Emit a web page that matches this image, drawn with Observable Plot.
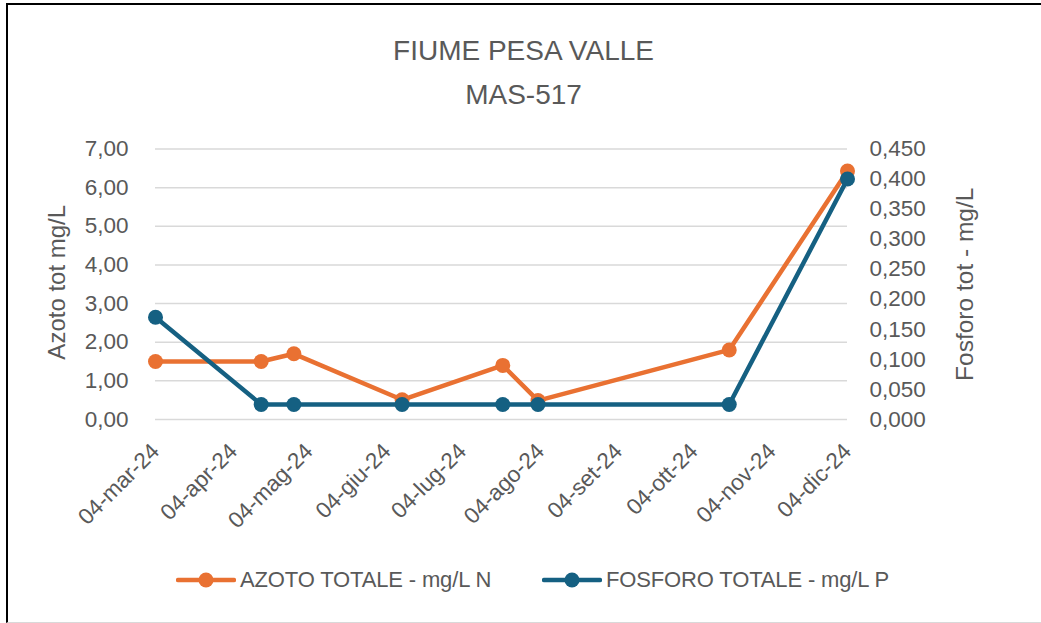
<!DOCTYPE html>
<html><head><meta charset="utf-8">
<script src="https://cdn.jsdelivr.net/npm/d3@7"></script>
<script src="https://cdn.jsdelivr.net/npm/@observablehq/plot@0.6"></script>
<style>
html,body{margin:0;padding:0;background:#fff;}
#page{position:relative;width:1041px;height:623px;overflow:hidden;font-family:"Liberation Sans",Arial,sans-serif;color:#595959;}
#frame{position:absolute;left:6px;top:3px;right:0;bottom:0;border-top:2px solid #000;border-left:2px solid #000;border-bottom:1px solid #d9d9d9;box-sizing:border-box;pointer-events:none;}
#title{position:absolute;left:6px;right:0;top:29px;text-align:center;font-size:28px;line-height:44px;}
#chart{position:absolute;left:0;top:130px;}
.item{position:absolute;top:566px;height:28px;display:flex;align-items:center;font-size:22px;letter-spacing:-0.15px;white-space:nowrap;}
.item svg{display:block;margin-right:4px;}
</style></head><body>
<div id="page">
  <div id="frame"></div>
  <div id="title"></div>
  <div id="chart"></div>
  <div id="legend"></div>
</div>
<script>
// ---- data ----
const titleLines = ["FIUME PESA VALLE", "MAS-517"];
const sampleDates = ["2024-03-04","2024-04-15","2024-04-28","2024-06-10","2024-07-20","2024-08-03","2024-10-18","2024-12-04"];
const azoto   = [1.50, 1.50, 1.70, 0.51, 1.40, 0.49, 1.80, 6.43];
const fosforo = [0.170, 0.025, 0.025, 0.025, 0.025, 0.025, 0.025, 0.400];
const seriesNames = ["AZOTO TOTALE - mg/L N", "FOSFORO TOTALE - mg/L P"];
const seriesColors = ["#E97132", "#156082"];
const tickDates = ["2024-03-04","2024-04-04","2024-05-04","2024-06-04","2024-07-04","2024-08-04","2024-09-04","2024-10-04","2024-11-04","2024-12-04"];
const tickLabels = ["04-mar-24","04-apr-24","04-mag-24","04-giu-24","04-lug-24","04-ago-24","04-set-24","04-ott-24","04-nov-24","04-dic-24"];
const leftTicks = [0,1,2,3,4,5,6,7];
const rightTicks = [0,0.05,0.10,0.15,0.20,0.25,0.30,0.35,0.40,0.45];
const leftTitle = "Azoto tot mg/L";
const rightTitle = "Fosforo tot - mg/L";

// ---- build ----
const FONT = '"Liberation Sans", Arial, sans-serif';
const TEXT = "#595959";
const parse = d3.utcParse("%Y-%m-%d");
const tDates = tickDates.map(parse);
const labelByTime = new Map(tDates.map((d,i)=>[+d, tickLabels[i]]));
const rows = sampleDates.map((s,i)=>({date: parse(s), azoto: azoto[i], fosforo: fosforo[i]}));
const leftMax = leftTicks[leftTicks.length-1];
const rightMax = rightTicks[rightTicks.length-1];
const ratio = leftMax / rightMax;
const comma = (v, n) => v.toFixed(n).replace(".", ",");

document.getElementById("title").innerHTML = titleLines.map(t=>`<div>${t}</div>`).join("");

const chart = Plot.plot({
  width: 1041,
  height: 420,
  marginLeft: 155,
  marginRight: 194,
  marginTop: 18.5,
  marginBottom: 131,
  x: {type: "utc", domain: d3.extent(tDates)},
  y: {domain: [0, leftMax]},
  style: {fontFamily: FONT, color: TEXT, background: "transparent", overflow: "visible"},
  marks: [
    Plot.gridY(leftTicks, {stroke: "#d9d9d9", strokeOpacity: 1, strokeWidth: 1.5}),
    Plot.axisY(leftTicks, {anchor: "left", tickSize: 0, tickPadding: 27, fontSize: 22.5, tickFormat: d => comma(d, 2), label: null}),
    Plot.axisY(rightTicks.map(v => v * ratio), {anchor: "right", tickSize: 0, tickPadding: 22, fontSize: 22.5, tickFormat: d => comma(d / ratio, 3), label: null}),
    Plot.axisX(tDates, {tickRotate: -45, tickSize: 0, tickPadding: 28, fontSize: 22.5, tickFormat: d => labelByTime.get(+d), label: null}),
    Plot.text([leftTitle], {text: d => d, frameAnchor: "left", dx: -98, dy: -2, rotate: -90, textAnchor: "middle", lineAnchor: "middle", fontSize: 24, fill: TEXT}),
    Plot.text([rightTitle], {text: d => d, frameAnchor: "right", dx: 118, rotate: -90, textAnchor: "middle", lineAnchor: "middle", fontSize: 24.5, fill: TEXT}),
    Plot.line(rows, {x: "date", y: "azoto", stroke: seriesColors[0], strokeWidth: 4.5, strokeLinejoin: "round", strokeLinecap: "round"}),
    Plot.dot(rows, {x: "date", y: "azoto", r: 7.5, fill: seriesColors[0], stroke: null}),
    Plot.line(rows, {x: "date", y: d => d.fosforo * ratio, stroke: seriesColors[1], strokeWidth: 4.5, strokeLinejoin: "round", strokeLinecap: "round"}),
    Plot.dot(rows, {x: "date", y: d => d.fosforo * ratio, r: 7.5, fill: seriesColors[1], stroke: null})
  ]
});
document.getElementById("chart").appendChild(chart);

// legend
const legendLefts = [176, 542];
const legend = document.getElementById("legend");
seriesNames.forEach((name, i) => {
  const item = document.createElement("div");
  item.className = "item";
  item.style.left = legendLefts[i] + "px";
  item.innerHTML = `<svg width="60" height="20"><line x1="2" x2="58" y1="10" y2="10" stroke="${seriesColors[i]}" stroke-width="4.5" stroke-linecap="round"/><circle cx="30" cy="10" r="7.5" fill="${seriesColors[i]}"/></svg><span>${name}</span>`;
  legend.appendChild(item);
});
</script>
</body></html>
